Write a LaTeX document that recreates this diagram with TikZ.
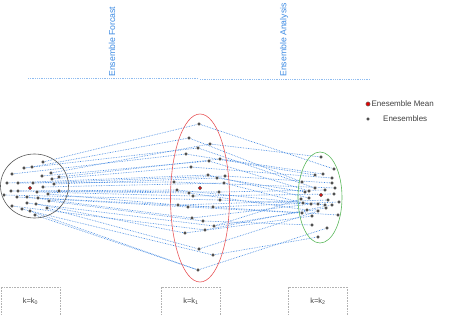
\documentclass[tikz,border=0pt]{standalone}
\usepackage{fontspec}
\setmainfont{Liberation Sans}
\usetikzlibrary{shapes.geometric,backgrounds}
\definecolor{lineblue}{HTML}{3F86E0}
\definecolor{axisblue}{HTML}{8FBCF0}
\definecolor{textblue}{HTML}{3D8BE3}
\definecolor{ringred}{HTML}{E8575A}
\definecolor{ringgreen}{HTML}{5CB85C}
\tikzset{
  ens/.style={circle, fill=black!85, draw=gray!30, line width=0.5pt,
    inner sep=0pt, minimum size=3.6pt},
  meanpt/.style={ens, fill=red!90!black, draw=black!60},
  link/.style={lineblue, densely dotted, line width=0.65pt},
  ring/.style={ellipse, draw, line width=0.6pt, inner sep=0pt},
  kbox/.style={draw=gray!60, densely dotted, line width=0.6pt,
    minimum width=59pt, minimum height=28pt, text=black!75, font=\fontsize{7.5}{8}\selectfont},
  phase/.style={rotate=90, anchor=west, inner sep=0pt, text=textblue,
    font=\fontsize{8.7}{9}\selectfont}
}
\begin{document}
\begin{tikzpicture}[x=1pt, y=-1pt]
  \useasboundingbox (0,0) rectangle (449,315);
  % 标题线
  \coordinate (fa) at (28,78);
  \coordinate (fb) at (198,78);
  \coordinate (aa) at (200,79);
  \coordinate (ab) at (370,79);
  \draw[axisblue, densely dotted, line width=0.8pt] (fa) -- (fb);
  \draw[axisblue, densely dotted, line width=0.8pt] (aa) -- (ab);
  \node[phase] (forcast) at (112,77) {Ensemble Forcast};
  \node[phase] (analysis) at (284,77) {Ensemble Analysis};
  % 图例
  \node[meanpt, minimum size=4.2pt] (legmean) at (368,104) {};
  \node[anchor=west, inner sep=1pt, text=black!75, font=\fontsize{8}{9}\selectfont]
    (legmeantxt) at (legmean.east) {Enesemble Mean};
  \node[ens] (legens) at (368,119) {};
  \node[anchor=west, inner sep=0pt, text=black!75, font=\fontsize{8}{9}\selectfont]
    (legenstxt) at (383,119) {Enesembles};
  % 三个集合
  \node[ring, draw=black!65, minimum width=68pt, minimum height=64pt] (cloud0) at (34.5,186) {};
  \node[ring, draw=ringred, minimum width=59pt, minimum height=168pt] (cloud1) at (200,198) {};
  \node[ring, draw=ringgreen, minimum width=44pt, minimum height=91pt] (cloud2) at (320,197.5) {};
  % k=k0
  \foreach \n/\x/\y in {1/43/162, 2/32/167, 3/24/168, 4/51/173, 5/12/174,
    6/42/176, 7/59/177, 8/52/179, 9/7/183, 10/18/183, 11/33/183, 12/54/184,
    13/43/187, 14/11/191, 15/18/191, 16/59/191, 17/37/192, 18/48/194,
    19/4/195, 20/17/197, 21/27/197, 22/38/198, 23/49/201, 24/27/203,
    25/36/204, 26/12/206, 27/47/208, 28/22/209, 29/30/211, 30/35/215}
    \node[ens] (l\n) at (\x,\y) {};
  \node[meanpt] (lmean) at (30,188) {};
  % k=k1
  \foreach \n/\x/\y in {1/199/124, 2/189/138, 3/210/144, 4/198/148, 5/186/154,
    6/220/159, 7/209/161, 8/191/167, 9/208/175, 10/225/176, 11/217/178,
    12/174/182, 13/224/183, 14/177/190, 15/219/192, 16/189/193, 17/193/196,
    18/220/200, 19/178/205, 20/188/207, 21/213/207, 22/192/218, 23/203/221,
    24/214/226, 25/205/230, 26/185/233, 27/199/249, 28/213/255, 29/198/270}
    \node[ens] (m\n) at (\x,\y) {};
  \node[meanpt] (mmean) at (200,188) {};
  % k=k2
  \foreach \n/\x/\y in {1/321/157, 2/334/169, 3/323/174, 4/315/175, 5/332/178,
    6/302/182, 7/332/183, 8/315/188, 9/335/188, 10/325/190, 11/309/191,
    12/305/192, 13/334/194, 14/309/198, 15/301/199, 16/328/200, 17/339/202,
    18/303/203, 19/311/204, 20/318/204, 21/325/205, 22/332/205, 23/326/208,
    24/307/210, 25/318/211, 26/302/213, 27/338/215, 28/312/216, 29/312/225,
    30/327/228, 31/318/237}
    \node[ens] (r\n) at (\x,\y) {};
  \node[meanpt] (rmean) at (321,195) {};
  % 连线
  \begin{scope}[on background layer]
    \foreach \a/\b in {1/1, 2/2, 3/4, 4/3, 5/5, 6/7, 7/6, 8/8, 9/9, 10/12,
      11/10, 12/11, 13/13, 14/14, 15/16, 16/15, 17/17, 18/19, 19/18, 20/20,
      21/22, 22/21, 23/23, 24/24, 25/26, 26/25, 27/27, 28/28, 29/29, 30/29}
      \draw[link] (l\a) -- (m\b);
    \foreach \a/\b in {1/2, 2/6, 3/1, 4/8, 5/4, 6/3, 7/11, 8/5, 9/14, 10/7,
      11/12, 12/9, 13/18, 14/21, 15/10, 16/24, 17/13, 18/20, 19/16, 20/26,
      21/17, 22/19, 23/29, 24/15, 25/22, 26/28, 27/25, 28/31, 29/30, 24/23, 19/27}
      \draw[link] (m\a) -- (r\b);
  \end{scope}
  % 时间步
  \node[kbox] (k0) at (30.5,301) {k=k\textsubscript{0}};
  \node[kbox] (k1) at (191,301) {k=k\textsubscript{1}};
  \node[kbox] (k2) at (318,301) {k=k\textsubscript{2}};
\end{tikzpicture}
\end{document}
